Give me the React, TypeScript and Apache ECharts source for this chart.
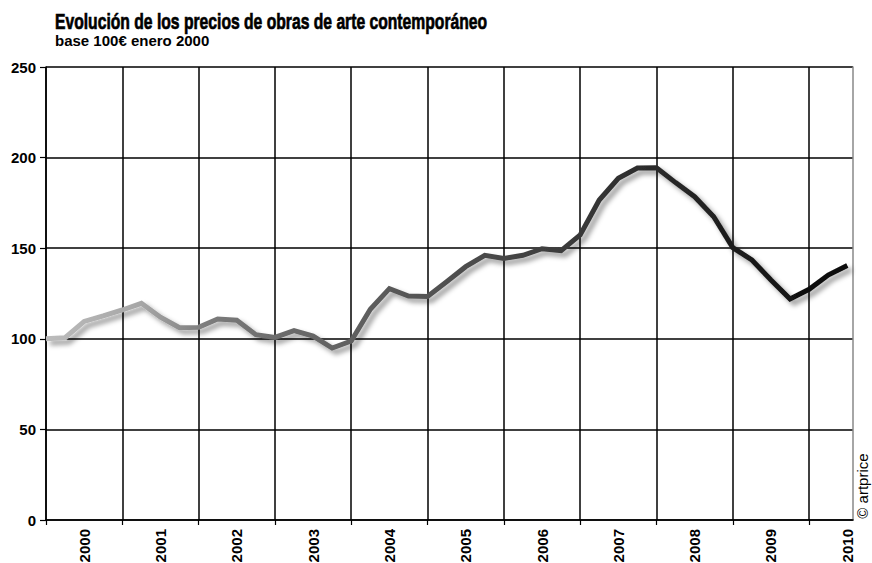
import React, { useEffect, useRef } from "react";
import * as echarts from "echarts";

// Quarterly index (0 = Q1 2000 ... 42 = Q3 2010)
const quarterIndex: number[] = Array.from({ length: 43 }, (_, i) => i);
const priceIndex: number[] = [
  100, 100.6, 109.6, 112.6, 115.9, 119.6, 111.9, 106.1, 106.3, 110.9,
  110.2, 102.3, 100.8, 104.5, 101.5, 94.9, 98.8, 116.3, 127.7, 123.6,
  123.4, 131.5, 139.8, 146.1, 144.4, 146.1, 149.7, 148.6, 157.3, 176.6,
  188.6, 194.3, 194.4, 186.2, 178.4, 167.4, 150.3, 143.5, 132.5, 122.0,
  127.3, 135.2, 140.4,
];
const yearLabels: string[] = [
  "2000", "2001", "2002", "2003", "2004", "2005", "2006", "2007", "2008", "2009", "2010",
];
// year boundaries (in quarters) and year centres (in quarters)
const yearStarts: number[] = yearLabels.map((_, i) => i * 4);
const yearCentres: number[] = yearLabels.map((_, i) => i * 4 + 2);

const TITLE = "Evolución de los precios de obras de arte contemporáneo";
const SUBTITLE = "base 100€ enero 2000";
const CREDIT = "© artprice";

export default function App() {
  const ref = useRef<HTMLDivElement>(null);
  useEffect(() => {
    document.body.style.margin = "0";
    const chart = echarts.init(ref.current!, null, { renderer: "svg" });
    const seriesData = quarterIndex.map((q, i) => [q, priceIndex[i]]);
    const option: any = {
      animation: false,
      backgroundColor: "#fff",
      grid: {
        left: 46,
        top: 67,
        right: 19,
        bottom: 43,
        containLabel: false,
        outerBoundsMode: "none",
      },
      xAxis: [
        {
          type: "value",
          min: 0,
          max: 42.3,
          interval: 4,
          position: "bottom",
          axisLine: { show: true, onZero: false, lineStyle: { color: "#000", width: 1.5 } },
          axisTick: {
            show: true,
            length: 5,
            customValues: yearStarts,
            lineStyle: { color: "#000", width: 1.2 },
          },
          axisLabel: {
            show: true,
            customValues: yearCentres,
            rotate: 90,
            margin: 9,
            fontFamily: "Liberation Sans",
            fontWeight: "bold",
            fontSize: 15,
            color: "#000",
            formatter: (v: number) => {
              const idx = Math.round((v - 2) / 4);
              return yearLabels[idx] ?? "";
            },
          },
          splitLine: { show: true, lineStyle: { color: "#000", width: 1.5 } },
        },
      ],
      yAxis: [
        {
          type: "value",
          min: 0,
          max: 250,
          interval: 50,
          axisLine: { show: true, lineStyle: { color: "#000", width: 1.5 } },
          axisTick: { show: true, length: 6, lineStyle: { color: "#000", width: 1.2 } },
          axisLabel: {
            margin: 10,
            fontFamily: "Liberation Sans",
            fontWeight: "bold",
            fontSize: 15,
            color: "#000",
          },
          splitLine: { show: true, lineStyle: { color: "#000", width: 1.5 } },
        },
        {
          type: "value",
          position: "right",
          min: 0,
          max: 250,
          interval: 50,
          axisLine: { show: true, lineStyle: { color: "#888", width: 1.5 } },
          axisTick: { show: false },
          axisLabel: { show: false },
          splitLine: { show: false },
        },
      ],
      series: [
        {
          type: "line",
          xAxisIndex: 0,
          yAxisIndex: 0,
          data: seriesData,
          symbol: "none",
          lineStyle: {
            width: 5,
            cap: "butt",
            join: "miter",
            color: new echarts.graphic.LinearGradient(0, 0, 1, 0, [
              { offset: 0, color: "#bcbcbc" },
              { offset: 0.12, color: "#a6a6a6" },
              { offset: 0.2, color: "#7c7c7c" },
              { offset: 0.3, color: "#6a6a6a" },
              { offset: 0.45, color: "#575757" },
              { offset: 0.6, color: "#424242" },
              { offset: 0.75, color: "#2c2c2c" },
              { offset: 1, color: "#080808" },
            ]),
            shadowColor: "rgba(0,0,0,0.4)",
            shadowBlur: 5,
            shadowOffsetX: 4,
            shadowOffsetY: 4,
          },
          z: 5,
        },
      ],
      graphic: [
        {
          type: "text",
          x: 55,
          y: 22,
          scaleX: 0.713,
          style: {
            text: TITLE,
            fontFamily: "Liberation Sans",
            fontWeight: "bold",
            fontSize: 22,
            fill: "#000",
            stroke: "#000",
            lineWidth: 0.7,
            align: "left",
            verticalAlign: "middle",
          },
        },
        {
          type: "text",
          x: 55,
          y: 40,
          style: {
            text: SUBTITLE,
            fontFamily: "Liberation Sans",
            fontWeight: "bold",
            fontSize: 15,
            fill: "#000",
            align: "left",
            verticalAlign: "middle",
          },
        },
        {
          type: "text",
          x: 862,
          y: 486,
          rotation: Math.PI / 2,
          style: {
            text: CREDIT,
            fontFamily: "Liberation Sans",
            fontSize: 15,
            fill: "#000",
            align: "center",
            verticalAlign: "middle",
          },
        },
      ],
    };
    chart.setOption(option);
    return () => chart.dispose();
  }, []);
  return <div ref={ref} style={{ width: 872, height: 563 }} />;
}
